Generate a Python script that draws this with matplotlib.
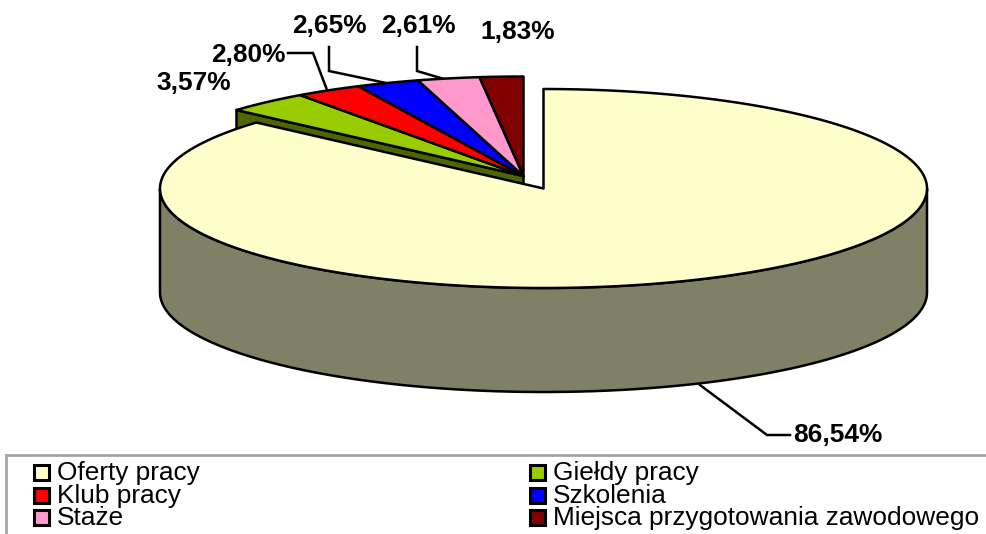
import numpy as np
import matplotlib
matplotlib.use("Agg")
import matplotlib.pyplot as plt
from matplotlib.patches import Polygon, Rectangle

categories = ["Oferty pracy", "Giełdy pracy", "Klub pracy", "Szkolenia", "Staże",
              "Miejsca przygotowania zawodowego"]
values = [86.54, 3.57, 2.80, 2.65, 2.61, 1.83]
value_labels = ["86,54%", "3,57%", "2,80%", "2,65%", "2,61%", "1,83%"]
top_colors = ["#FFFFCC", "#99CC00", "#FF0000", "#0000FF", "#FF99CC", "#800000"]
side_colors = ["#808066", "#4D6600", "#800000", "#000080", "#804D66", "#400000"]

RX, RY, DEPTH = 383.5, 99.5, 104
MAIN_C = (543.5, 188.5)
REST_C = (523.5, 176.0)
LW = 1.8

fig = plt.figure(figsize=(9.87, 5.34), dpi=100, facecolor="white")
ax = fig.add_axes([0, 0, 1, 1])
ax.set_xlim(0, 987)
ax.set_ylim(534, 0)
ax.axis("off")
plt.rcParams["font.family"] = ["Liberation Sans", "DejaVu Sans"]


def pt(c, a):
    return c[0] + RX * np.sin(a), c[1] - RY * np.cos(a)


def arc(c, a0, a1, n=200):
    t = np.linspace(a0, a1, n)
    return np.column_stack([c[0] + RX * np.sin(t), c[1] - RY * np.cos(t)])


def poly(xy, fc, z):
    ax.add_patch(Polygon(xy, closed=True, facecolor=fc, edgecolor="black",
                         linewidth=LW, joinstyle="round", zorder=z))


edges = np.concatenate([[0], np.cumsum(values)]) / sum(values) * 2 * np.pi

# small slices: lie behind the large one, with only the first radial face visible
a0 = edges[1]
p = np.array(pt(REST_C, a0))
poly([REST_C, p, p + [0, DEPTH], (REST_C[0], REST_C[1] + DEPTH)], side_colors[1], 2)
for i in range(1, len(values)):
    poly(np.vstack([[REST_C], arc(REST_C, edges[i], edges[i + 1])]), top_colors[i], 3)

# large slice: front wall then top
front = arc(MAIN_C, np.pi / 2, 3 * np.pi / 2)
poly(np.vstack([front, (front + [0, DEPTH])[::-1]]), side_colors[0], 4)
poly(np.vstack([[MAIN_C], arc(MAIN_C, edges[0], edges[1], 500)]), top_colors[0], 5)

# data labels
label_pos = [(838, 435), (194, 83), (248, 55), (329, 26), (418, 26), (518, 32)]
for lab, (x, y) in zip(value_labels, label_pos):
    ax.text(x, y, lab, fontsize=18.9, fontweight="bold", ha="center", va="center",
            color="black", zorder=8)

# leader lines
leaders = [[(700, 385), (767, 435), (790, 435)],
           [(288, 53), (313, 53), (327, 90)],
           [(329, 47), (329, 71), (386, 83)],
           [(417, 47), (417, 71), (444, 79)]]
for l in leaders:
    xs, ys = zip(*l)
    ax.plot(xs, ys, color="black", lw=LW, zorder=1, solid_joinstyle="miter")

# legend frame
ax.plot([988, 6, 6], [454.5, 454.5, 534], color="#A6A6A6", lw=2, zorder=6,
        solid_joinstyle="miter")
leg_x = [34, 530]
leg_y = [472, 495, 517]
for i, cat in enumerate(categories):
    x = leg_x[i % 2]
    y = leg_y[i // 2]
    ax.add_patch(Rectangle((x, y - 7.5), 15, 15, facecolor=top_colors[i], edgecolor="black",
                           linewidth=2.2, zorder=7))
    ax.text(x + 23, y + 1, cat, fontsize=18.9, ha="left", va="center", color="black", zorder=7)

fig.savefig("out.png", dpi=100)
